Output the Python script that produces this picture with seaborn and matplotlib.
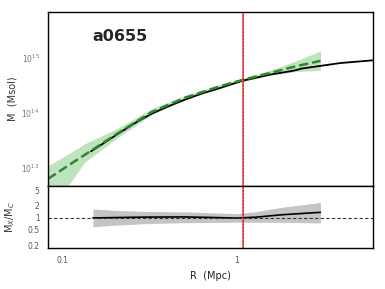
import matplotlib
matplotlib.use("Agg")
import matplotlib.pyplot as plt
import numpy as np
import pandas as pd
import seaborn as sns
from matplotlib.ticker import LogLocator, FixedLocator, FixedFormatter, NullFormatter

# hydrostatic (X-ray) mass profile, log10 M
r_x = [0.146, 0.169, 0.21, 0.262, 0.326, 0.406, 0.506, 0.631, 0.785, 1.07,
       1.55, 2.1, 2.35, 3.9, 6.0]
logm_x = [13.30, 13.43, 13.626, 13.82, 13.99, 14.124, 14.246, 14.356, 14.447,
          14.586, 14.70, 14.77, 14.81, 14.91, 14.96]

# caustic mass profile with band, log10 M
r_c = [0.083, 0.108, 0.135, 0.21, 0.326, 0.506, 0.785, 1.07, 1.55, 2.1, 3.0]
logm_c = [12.80, 13.04, 13.24, 13.64, 14.02, 14.28, 14.48, 14.60, 14.73, 14.84, 14.95]
logm_c_hi = [13.04, 13.25, 13.44, 13.73, 14.08, 14.32, 14.51, 14.63, 14.78, 14.93, 15.13]
logm_c_lo = [12.40, 12.67, 13.11, 13.56, 13.97, 14.24, 14.45, 14.57, 14.69, 14.75, 14.78]

# ratio M_X / M_C
r_ratio = [0.15, 0.2, 0.3, 0.5, 0.7, 1.0, 1.3, 1.8, 2.4, 3.0]
ratio = [1.0, 1.02, 1.05, 1.06, 1.03, 0.99, 1.05, 1.2, 1.3, 1.38]
ratio_hi = [1.68, 1.55, 1.45, 1.42, 1.35, 1.28, 1.45, 1.85, 2.15, 2.45]
ratio_lo = [0.60, 0.66, 0.72, 0.76, 0.77, 0.78, 0.78, 0.78, 0.76, 0.75]

r200 = 1.08
cluster = "a0655"

sns.set_style("white")
plt.rcParams["font.family"] = ["DejaVu Sans"]

df_x = pd.DataFrame({"R": r_x, "M": 10 ** np.array(logm_x)})
df_c = pd.DataFrame({"R": r_c, "M": 10 ** np.array(logm_c)})
df_r = pd.DataFrame({"R": r_ratio, "ratio": ratio})

fig = plt.figure(figsize=(3.85, 2.89), dpi=100)
ax1 = fig.add_axes([0.1247, 0.3564, 0.8443, 0.6021])
ax2 = fig.add_axes([0.1247, 0.1429, 0.8443, 0.2135], sharex=ax1)

# top panel
ax1.fill_between(r_c, 10 ** np.array(logm_c_lo), 10 ** np.array(logm_c_hi),
                 color="#bfe3bf", linewidth=0)
sns.lineplot(data=df_x, x="R", y="M", ax=ax1, color="black", lw=1.3)
sns.lineplot(data=df_c, x="R", y="M", ax=ax1, color="#2a8a2a", lw=1.8,
             dashes=(4, 3), linestyle="--")
ax1.axvline(r200, color="#ff3333", lw=1.1)
ax1.axvline(r200, color="#333333", lw=0.6, ls=(0, (2, 2)), alpha=0.8)
ax1.set_xscale("log")
ax1.set_yscale("log")
ax1.set_xlim(0.083, 6.0)
ax1.set_ylim(10 ** 12.67, 10 ** 15.84)
ax1.set_xlabel("")
ax1.set_ylabel("M  (Msol)", fontsize=7, color="#333333")
ax1.text(0.137, 0.86, cluster, transform=ax1.transAxes, fontsize=11.5,
         fontweight="bold", va="center")
ax1.yaxis.set_major_locator(FixedLocator([1e13, 1e14, 1e15]))
ax1.yaxis.set_minor_locator(LogLocator(base=10, subs=np.arange(2, 10)))
ax1.tick_params(axis="y", which="major", direction="inout", length=5,
                labelsize=5.5, labelcolor="#777777", width=0.8)
ax1.tick_params(axis="y", which="minor", direction="in", length=2, width=0.5)
ax1.tick_params(axis="x", which="both", labelbottom=False, direction="in",
                length=2)

# bottom panel
ax2.fill_between(r_ratio, ratio_lo, ratio_hi, color="#c4c4c4", linewidth=0)
sns.lineplot(data=df_r, x="R", y="ratio", ax=ax2, color="black", lw=1.2)
ax2.axhline(1.0, color="#333333", lw=0.8, ls=(0, (3, 2)))
ax2.axvline(r200, color="#ff3333", lw=1.1)
ax2.axvline(r200, color="#333333", lw=0.6, ls=(0, (2, 2)), alpha=0.8)
ax2.set_yscale("log")
ax2.set_ylim(0.18, 6.3)
ax2.yaxis.set_major_locator(FixedLocator([0.2, 0.5, 1, 2, 5]))
ax2.yaxis.set_major_formatter(FixedFormatter(["0.2", "0.5", "1", "2", "5"]))
ax2.yaxis.set_minor_locator(LogLocator(base=10, subs=np.arange(2, 10)))
ax2.yaxis.set_minor_formatter(NullFormatter())
ax2.xaxis.set_major_locator(FixedLocator([0.1, 1]))
ax2.xaxis.set_major_formatter(FixedFormatter(["0.1", "1"]))
ax2.xaxis.set_minor_locator(LogLocator(base=10, subs=np.arange(2, 10)))
ax2.xaxis.set_minor_formatter(NullFormatter())
ax2.tick_params(axis="both", which="major", direction="inout", length=5,
                labelsize=5.5, labelcolor="#555555", width=0.8)
ax2.tick_params(axis="both", which="minor", direction="in", length=2, width=0.5)
ax2.set_xlabel("R  (Mpc)", fontsize=7, color="#222222")
ax2.set_ylabel(r"M$_X$/M$_C$", fontsize=7, color="#333333")

for ax in (ax1, ax2):
    for s in ax.spines.values():
        s.set_color("black")
        s.set_linewidth(1.0)
    ax.yaxis.set_label_coords(-0.095, 0.5)

fig.savefig("out.png", dpi=100)
